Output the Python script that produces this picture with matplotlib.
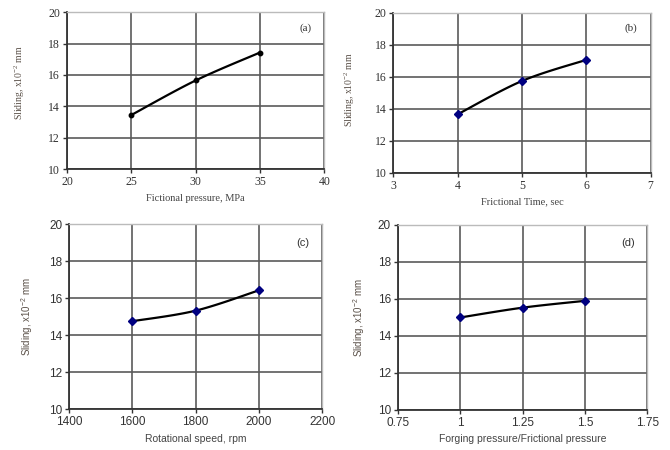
import numpy as np
import matplotlib
matplotlib.use("Agg")
import matplotlib.pyplot as plt

# panel data
fp_x = [25, 30, 35]
fp_y = [13.45, 15.65, 17.43]

ft_x = [4, 5, 6]
ft_y = [13.65, 15.73, 17.05]

rs_x = [1600, 1800, 2000]
rs_y = [14.75, 15.32, 16.42]

fr_x = [1.0, 1.25, 1.5]
fr_y = [15.0, 15.53, 15.9]

ylab = r'Sliding, x10$\mathregular{^{-2}}$ mm'


def smooth(x, y, xr, yr, n=30):
    # excel-like smoothed line (bezier, 1/6 tension) computed in normalised space
    x = (np.asarray(x, float) - xr[0]) / (xr[1] - xr[0])
    y = (np.asarray(y, float) - yr[0]) / (yr[1] - yr[0])
    P = np.column_stack([x, y])
    P = np.vstack([P[0], P, P[-1]])
    t = np.linspace(0, 1, n)[:, None]
    out = []
    for i in range(1, len(P) - 2):
        p0, p3 = P[i], P[i + 1]
        c1 = p0 + (P[i + 1] - P[i - 1]) / 6
        c2 = p3 - (P[i + 2] - P[i]) / 6
        seg = (1 - t)**3 * p0 + 3 * (1 - t)**2 * t * c1 + 3 * (1 - t) * t**2 * c2 + t**3 * p3
        out.append(seg)
    S = np.vstack(out)
    return S[:, 0] * (xr[1] - xr[0]) + xr[0], S[:, 1] * (yr[1] - yr[0]) + yr[0]


def panel(rect, x, y, xr, xt, xtl, xlabel, tag, family, marker, ms, mcol, ylpos):
    ax = fig.add_axes(rect)
    yr = (10, 20)
    sx, sy = smooth(x, y, xr, yr)
    ax.plot(sx, sy, color='black', lw=1.6, zorder=3)
    ax.plot(x, y, ls='none', marker=marker, ms=ms, color=mcol, zorder=4)
    ax.set_xlim(*xr)
    ax.set_ylim(*yr)
    ax.set_xticks(xt)
    ax.set_xticklabels(xtl, family=family, fontsize=8.5, color='#333333')
    ax.set_yticks(range(10, 21, 2))
    ax.set_yticklabels([str(v) for v in range(10, 21, 2)], family=family,
                       fontsize=8.5, color='#333333')
    ax.grid(True, color='#5a5a5a', lw=1.2)
    ax.set_axisbelow(True)
    for s in ['top', 'right']:
        ax.spines[s].set_color('#bbbbbb')
        ax.spines[s].set_linewidth(1.0)
    for s in ['left', 'bottom']:
        ax.spines[s].set_color('#333333')
        ax.spines[s].set_linewidth(1.3)
    ax.tick_params(direction='out', length=3, width=1, color='#333333', pad=2)
    ax.set_xlabel(xlabel, family=family, fontsize=7.5, color='#444444', labelpad=4)
    ax.set_ylabel(ylab, family=family, fontsize=7, color='#5a5048')
    ax.yaxis.set_label_coords(*ylpos)
    ax.text(0.95, 0.9, tag, transform=ax.transAxes, ha='right', va='center',
            family=family, fontsize=8, color='#333333')
    return ax


fig = plt.figure(figsize=(6.7, 4.5), dpi=100)

panel([0.100, 0.624, 0.384, 0.349], fp_x, fp_y, (20, 40), [20, 25, 30, 35, 40],
      ['20', '25', '30', '35', '40'], 'Fictional pressure, MPa', '(a)',
      'Liberation Serif', 'o', 3.2, 'black', (-0.155, 0.55))
panel([0.587, 0.616, 0.384, 0.356], ft_x, ft_y, (3, 7), [3, 4, 5, 6, 7],
      ['3', '4', '5', '6', '7'], 'Frictional Time, sec', '(b)',
      'Liberation Serif', 'D', 4.5, '#000080', (-0.14, 0.52))
panel([0.103, 0.091, 0.378, 0.411], rs_x, rs_y, (1400, 2200),
      [1400, 1600, 1800, 2000, 2200], ['1400', '1600', '1800', '2000', '2200'],
      'Rotational speed, rpm', '(c)', 'Liberation Sans', 'D', 4.5, '#000080',
      (-0.135, 0.5))
panel([0.594, 0.089, 0.372, 0.411], fr_x, fr_y, (0.75, 1.75),
      [0.75, 1.0, 1.25, 1.5, 1.75], ['0.75', '1', '1.25', '1.5', '1.75'],
      'Forging pressure/Frictional pressure', '(d)', 'Liberation Sans', 'D', 4.5,
      '#000080', (-0.125, 0.5))

fig.savefig('out.png', dpi=100)
